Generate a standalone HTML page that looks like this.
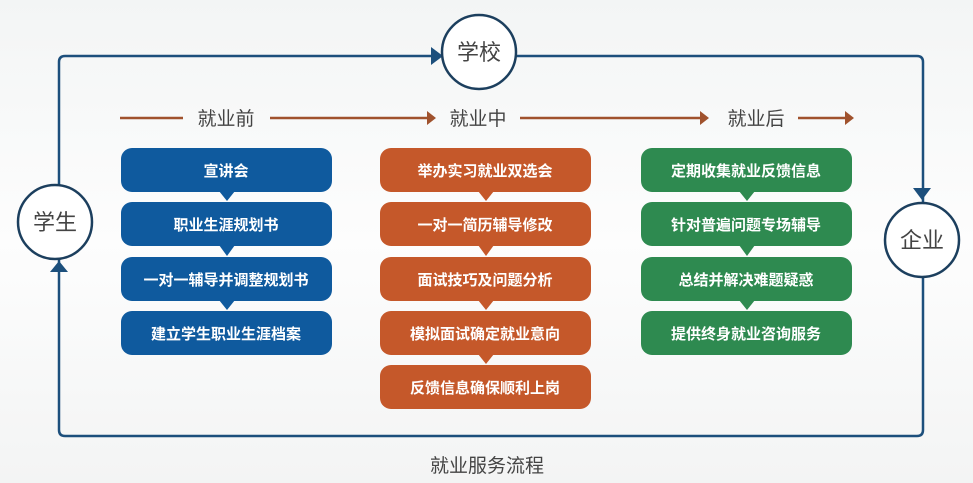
<!DOCTYPE html>
<html><head><meta charset="utf-8">
<style>
html,body{margin:0;padding:0;background:#f7f8f8;}
svg{display:block;}
text{font-family:"Liberation Sans","Noto Sans CJK SC",sans-serif;}
.w{fill:#fff;font-size:15px;font-weight:bold;text-anchor:middle;}
.h{fill:#444;font-size:19px;text-anchor:middle;}
</style></head>
<body>
<svg width="973" height="483" viewBox="0 0 973 483" xmlns="http://www.w3.org/2000/svg">
<defs>
<linearGradient id="bg" x1="0" y1="0" x2="0" y2="1"><stop offset="0" stop-color="#f3f5f5"/><stop offset="0.5" stop-color="#fdfdfd"/><stop offset="1" stop-color="#f3f4f4"/></linearGradient>
</defs>
<rect width="973" height="483" fill="url(#bg)"/>
<!-- outer loop -->
<path d="M59 222 V62 Q59 56 65 56 H917 Q923 56 923 62 V430 Q923 436 917 436 H65 Q59 436 59 430 V222" fill="none" stroke="#1c4f7c" stroke-width="2.5"/>
<!-- arrows on loop -->
<polygon points="431,47 443,56 431,65" fill="#1c4f7c"/>
<polygon points="913,188 931,188 922,200" fill="#1c4f7c"/>
<polygon points="50,272 68,272 59,261" fill="#1c4f7c"/>
<!-- circles -->
<circle cx="479" cy="52" r="37" fill="#fff" stroke="#1c3f5e" stroke-width="2.5"/>
<text x="479" y="60" class="h" style="font-size:22px">学校</text>
<circle cx="55" cy="222" r="37" fill="#fff" stroke="#1c3f5e" stroke-width="2.5"/>
<text x="55" y="230" class="h" style="font-size:22px">学生</text>
<circle cx="922" cy="240" r="37" fill="#fff" stroke="#1c3f5e" stroke-width="2.5"/>
<text x="922" y="248" class="h" style="font-size:22px">企业</text>
<!-- header line -->
<g stroke="#a0522d" stroke-width="2.5">
<line x1="120" y1="118" x2="183" y2="118"/>
<line x1="270" y1="118" x2="428" y2="118"/>
<line x1="520" y1="118" x2="700" y2="118"/>
<line x1="798" y1="118" x2="846" y2="118"/>
</g>
<g fill="#a0522d">
<polygon points="427,111 436,118 427,125"/>
<polygon points="700,111 709,118 700,125"/>
<polygon points="845,111 854,118 845,125"/>
</g>
<text x="226" y="125" class="h">就业前</text>
<text x="478" y="125" class="h">就业中</text>
<text x="756" y="125" class="h">就业后</text>
<!-- blue column -->
<g fill="#0f5a9e">
<rect x="121" y="148" width="211" height="44" rx="11"/>
<rect x="121" y="202" width="211" height="44" rx="11"/>
<rect x="121" y="257" width="211" height="44" rx="11"/>
<rect x="121" y="311" width="211" height="44" rx="11"/>
<polygon points="219,191 235,191 227,201"/>
<polygon points="219,245 235,245 227,256"/>
<polygon points="219,300 235,300 227,310"/>
</g>
<text x="226" y="176" class="w">宣讲会</text>
<text x="226" y="230" class="w">职业生涯规划书</text>
<text x="226" y="285" class="w">一对一辅导并调整规划书</text>
<text x="226" y="339" class="w">建立学生职业生涯档案</text>
<!-- orange column -->
<g fill="#c5582a">
<rect x="380" y="148" width="211" height="44" rx="11"/>
<rect x="380" y="202" width="211" height="44" rx="11"/>
<rect x="380" y="257" width="211" height="44" rx="11"/>
<rect x="380" y="311" width="211" height="44" rx="11"/>
<rect x="380" y="365" width="211" height="44" rx="11"/>
<polygon points="478,191 494,191 486,201"/>
<polygon points="478,245 494,245 486,256"/>
<polygon points="478,300 494,300 486,310"/>
<polygon points="478,354 494,354 486,364"/>
</g>
<text x="485" y="176" class="w">举办实习就业双选会</text>
<text x="485" y="230" class="w">一对一简历辅导修改</text>
<text x="485" y="285" class="w">面试技巧及问题分析</text>
<text x="485" y="339" class="w">模拟面试确定就业意向</text>
<text x="485" y="393" class="w">反馈信息确保顺利上岗</text>
<!-- green column -->
<g fill="#2e8a50">
<rect x="641" y="148" width="211" height="44" rx="11"/>
<rect x="641" y="202" width="211" height="44" rx="11"/>
<rect x="641" y="257" width="211" height="44" rx="11"/>
<rect x="641" y="311" width="211" height="44" rx="11"/>
<polygon points="739,191 755,191 747,201"/>
<polygon points="739,245 755,245 747,256"/>
<polygon points="739,300 755,300 747,310"/>
</g>
<text x="746" y="176" class="w">定期收集就业反馈信息</text>
<text x="746" y="230" class="w">针对普遍问题专场辅导</text>
<text x="746" y="285" class="w">总结并解决难题疑惑</text>
<text x="746" y="339" class="w">提供终身就业咨询服务</text>
<!-- caption -->
<text x="487" y="472" class="h">就业服务流程</text>
</svg>
</body></html>
